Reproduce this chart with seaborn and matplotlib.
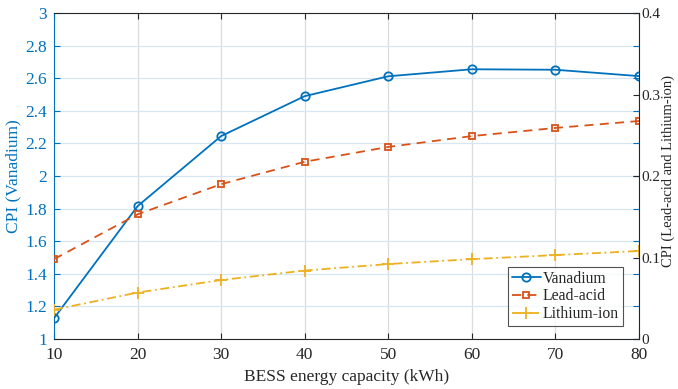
import matplotlib
matplotlib.use("Agg")
import matplotlib.pyplot as plt
import seaborn as sns
import pandas as pd

capacity = [10, 20, 30, 40, 50, 60, 70, 80]
vanadium = [1.127, 1.815, 2.245, 2.49, 2.612, 2.655, 2.652, 2.613]
lead_acid = [0.098, 0.153, 0.190, 0.2175, 0.2357, 0.249, 0.259, 0.2675]
lithium_ion = [0.036, 0.057, 0.0724, 0.084, 0.092, 0.098, 0.103, 0.108]

sns.set_theme(style="white")
plt.rcParams['font.family'] = ['Liberation Serif', 'DejaVu Serif']

BLUE = '#0072BD'
ORANGE = '#D95319'
YELLOW = '#EDB120'
DARK = '#262626'

df = pd.DataFrame({'cap': capacity, 'van': vanadium, 'lead': lead_acid, 'li': lithium_ion})

fig = plt.figure(figsize=(6.78, 3.89), dpi=100)
ax = fig.add_axes([0.0796, 0.1285, 0.8629, 0.838])
ax2 = ax.twinx()

sns.lineplot(data=df, x='cap', y='van', ax=ax, color=BLUE, linestyle='-', linewidth=1.3,
             marker='o', markersize=6, markerfacecolor='none', markeredgecolor=BLUE,
             markeredgewidth=1.3, label='Vanadium', legend=False)
sns.lineplot(data=df, x='cap', y='lead', ax=ax2, color=ORANGE, linestyle=(0, (5, 3.5)), linewidth=1.3,
             marker='s', markersize=5, markerfacecolor='none', markeredgecolor=ORANGE,
             markeredgewidth=1.3, label='Lead-acid', legend=False)
sns.lineplot(data=df, x='cap', y='li', ax=ax2, color=YELLOW, linestyle=(0, (5, 2, 1, 2)), linewidth=1.3,
             marker='+', markersize=9, markeredgecolor=YELLOW,
             markeredgewidth=1.3, label='Lithium-ion', legend=False)

ax.set_xlim(10, 80)
ax.set_ylim(1, 3)
ax2.set_ylim(0, 0.4)
ax.set_xticks(capacity)
ax.set_yticks([1, 1.2, 1.4, 1.6, 1.8, 2, 2.2, 2.4, 2.6, 2.8, 3])
ax.set_yticklabels(['1', '1.2', '1.4', '1.6', '1.8', '2', '2.2', '2.4', '2.6', '2.8', '3'])
ax2.set_yticks([0, 0.1, 0.2, 0.3, 0.4])
ax2.set_yticklabels(['0', '0.1', '0.2', '0.3', '0.4'])

# grid
ax.grid(True, axis='y', color='#d6e6f3', linewidth=0.9)
ax.grid(True, axis='x', color='#dcdcdc', linewidth=0.9)
ax2.grid(False)
ax.set_axisbelow(True)

fs = 12.5
ax.tick_params(axis='x', direction='in', length=4, colors=DARK, labelsize=fs, top=True, bottom=True,
               width=0.8, pad=6)
ax.tick_params(axis='y', direction='in', length=4, colors=BLUE, labelsize=fs, left=True, right=True,
               labelright=False, width=0.8, pad=5)
ax2.tick_params(axis='y', direction='in', length=4, colors=DARK, labelsize=11, width=0.8, pad=2)

for s in ['top', 'bottom']:
    ax.spines[s].set_color(DARK)
    ax.spines[s].set_linewidth(0.8)
ax.spines['left'].set_color(BLUE)
ax.spines['left'].set_linewidth(0.8)
ax.spines['right'].set_visible(False)
for s in ['top', 'bottom', 'left']:
    ax2.spines[s].set_visible(False)
ax2.spines['right'].set_color(DARK)
ax2.spines['right'].set_linewidth(0.8)

ax.set_xlabel('BESS energy capacity (kWh)', fontsize=fs, color=DARK, labelpad=4)
ax.set_ylabel('CPI (Vanadium)', fontsize=fs, color=BLUE, labelpad=3)
ax2.set_ylabel('CPI (Lead-acid and Lithium-ion)', fontsize=10.5, color=DARK)
ax2.yaxis.set_label_coords(1.0385, 0.515)

h1, l1 = ax.get_legend_handles_labels()
h2, l2 = ax2.get_legend_handles_labels()
leg = ax2.legend(h1 + h2, l1 + l2, loc='lower right', bbox_to_anchor=(0.972, 0.04),
                 fontsize=11.3, frameon=True, fancybox=False, edgecolor=DARK,
                 handlelength=1.85, handletextpad=0.1, borderpad=0.25, labelspacing=0.1,
                 borderaxespad=0.0)
leg.get_frame().set_linewidth(0.8)

fig.savefig('out.png', dpi=100)
